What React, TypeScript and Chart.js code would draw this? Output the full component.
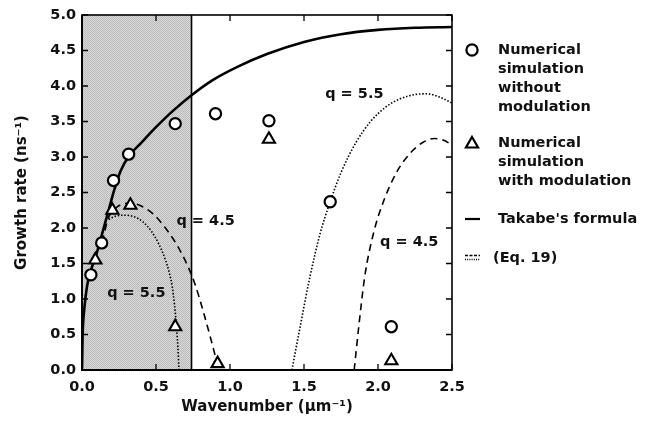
import React, { useEffect, useRef } from "react";
import { Chart, registerables } from "chart.js";

Chart.register(...registerables);

const FONT = "'DejaVu Sans', 'Liberation Sans', sans-serif";

// Simulation points
const circleX = [0.06, 0.133, 0.213, 0.315, 0.63, 0.902, 1.263, 1.677, 2.09];
const circleY = [1.34, 1.79, 2.67, 3.04, 3.47, 3.61, 3.51, 2.37, 0.61];
const triangleX = [0.09, 0.205, 0.327, 0.63, 0.916, 1.263, 2.09];
const triangleY = [1.55, 2.25, 2.32, 0.61, 0.09, 3.25, 0.13];

// Takabe's formula (solid)
const takabeX = [0, 0.004, 0.015, 0.034, 0.06, 0.1, 0.14, 0.18, 0.22, 0.26, 0.32, 0.4, 0.5, 0.62, 0.74, 0.88, 1.05, 1.25, 1.5, 1.75, 2.0, 2.25, 2.5];
const takabeY = [0, 0.47, 0.85, 1.18, 1.4, 1.65, 1.95, 2.25, 2.55, 2.8, 3.02, 3.2, 3.42, 3.66, 3.87, 4.08, 4.27, 4.45, 4.62, 4.73, 4.79, 4.82, 4.83];

// Eq. 19, q = 4.5 (dashed)
const q45LeftX = [0.137, 0.178, 0.24, 0.32, 0.4, 0.48, 0.56, 0.63, 0.7, 0.76, 0.82, 0.87, 0.925];
const q45LeftY = [1.8, 2.14, 2.3, 2.35, 2.31, 2.2, 2.01, 1.8, 1.53, 1.23, 0.82, 0.44, 0];
const q45RightX = [1.839, 1.87, 1.91, 1.97, 2.04, 2.13, 2.22, 2.3, 2.38, 2.44, 2.5];
const q45RightY = [0, 0.61, 1.31, 1.93, 2.39, 2.8, 3.06, 3.2, 3.26, 3.24, 3.17];

// Eq. 19, q = 5.5 (dotted)
const q55LeftX = [0.18, 0.23, 0.29, 0.35, 0.41, 0.47, 0.52, 0.56, 0.59, 0.61, 0.625, 0.638, 0.648, 0.655];
const q55LeftY = [2.12, 2.17, 2.18, 2.16, 2.09, 1.95, 1.77, 1.57, 1.37, 1.17, 0.92, 0.62, 0.32, 0];
const q55RightX = [1.418, 1.474, 1.54, 1.61, 1.677, 1.75, 1.85, 1.95, 2.05, 2.15, 2.25, 2.33, 2.42, 2.5];
const q55RightY = [0, 0.61, 1.31, 1.93, 2.37, 2.78, 3.2, 3.5, 3.7, 3.82, 3.88, 3.89, 3.84, 3.76];

const shadedLimit = 0.74;
const xTickValues = [0, 0.5, 1.0, 1.5, 2.0, 2.5];
const yTickValues = [0, 0.5, 1.0, 1.5, 2.0, 2.5, 3.0, 3.5, 4.0, 4.5, 5.0];

const curveLabels = ["q = 4.5", "q = 5.5", "q = 5.5", "q = 4.5"];
const curveLabelX = [0.638, 0.17, 1.643, 2.014];
const curveLabelY = [2.1, 1.08, 3.89, 1.8];

const legendCircleText = ["Numerical", "simulation", "without", "modulation"];
const legendTriangleText = ["Numerical", "simulation", "with modulation"];
const legendTakabeText = "Takabe's formula";
const legendEqText = "(Eq. 19)";

const toPts = (xs: number[], ys: number[]) => xs.map((x, i) => ({ x, y: ys[i] }));

function makeStipple(ctx: CanvasRenderingContext2D) {
  const c = document.createElement("canvas");
  c.width = 2;
  c.height = 2;
  const g = c.getContext("2d")!;
  g.fillStyle = "#d8d8d8";
  g.fillRect(0, 0, 2, 2);
  g.fillStyle = "#bcbcbc";
  g.fillRect(0, 0, 1, 1);
  g.fillRect(1, 1, 1, 1);
  return ctx.createPattern(c, "repeat");
}

const decorPlugin = {
  id: "decor",
  beforeDatasetsDraw(chart: any) {
    const { ctx, chartArea, scales } = chart;
    const xs = scales.x;
    const px = xs.getPixelForValue(shadedLimit);
    ctx.save();
    ctx.fillStyle = makeStipple(ctx) || "#cbcbcb";
    ctx.fillRect(chartArea.left, chartArea.top, px - chartArea.left, chartArea.bottom - chartArea.top);
    ctx.strokeStyle = "#000";
    ctx.lineWidth = 1.6;
    ctx.beginPath();
    ctx.moveTo(px, chartArea.top);
    ctx.lineTo(px, chartArea.bottom);
    ctx.stroke();
    ctx.restore();
  },
  afterDraw(chart: any) {
    const { ctx, chartArea, scales } = chart;
    const xs = scales.x;
    const ys = scales.y;
    const { left, right, top, bottom } = chartArea;
    ctx.save();
    // frame
    ctx.strokeStyle = "#000";
    ctx.lineWidth = 1.6;
    ctx.strokeRect(left, top, right - left, bottom - top);
    ctx.lineWidth = 2;
    ctx.beginPath();
    ctx.moveTo(left, top);
    ctx.lineTo(left, bottom);
    ctx.lineTo(right, bottom);
    ctx.stroke();
    // inward ticks
    ctx.lineWidth = 1.3;
    ctx.beginPath();
    const tl = 6;
    xTickValues.forEach((v) => {
      const p = xs.getPixelForValue(v);
      ctx.moveTo(p, bottom);
      ctx.lineTo(p, bottom - tl);
      ctx.moveTo(p, top);
      ctx.lineTo(p, top + tl);
    });
    yTickValues.forEach((v) => {
      const p = ys.getPixelForValue(v);
      ctx.moveTo(left, p);
      ctx.lineTo(left + tl, p);
      ctx.moveTo(right, p);
      ctx.lineTo(right - tl, p);
    });
    ctx.stroke();

    // curve labels
    ctx.fillStyle = "#111";
    ctx.font = `bold 14.5px ${FONT}`;
    ctx.textBaseline = "middle";
    ctx.textAlign = "left";
    curveLabels.forEach((t, i) => {
      ctx.fillText(t, xs.getPixelForValue(curveLabelX[i]), ys.getPixelForValue(curveLabelY[i]));
    });

    // legend
    const iconX = 472;
    const textX = 498;
    const lh = 19.2;
    ctx.lineWidth = 2.2;
    ctx.strokeStyle = "#000";
    ctx.fillStyle = "#fff";
    ctx.beginPath();
    ctx.arc(iconX, 50, 5.6, 0, Math.PI * 2);
    ctx.fill();
    ctx.stroke();
    ctx.fillStyle = "#111";
    legendCircleText.forEach((t, i) => ctx.fillText(t, textX, 50 + i * lh));

    ctx.beginPath();
    const ty = 144;
    const r = 7;
    ctx.moveTo(iconX, ty - r);
    ctx.lineTo(iconX + r * 0.866, ty + r * 0.5);
    ctx.lineTo(iconX - r * 0.866, ty + r * 0.5);
    ctx.closePath();
    ctx.fillStyle = "#fff";
    ctx.fill();
    ctx.stroke();
    ctx.fillStyle = "#111";
    legendTriangleText.forEach((t, i) => ctx.fillText(t, textX, 143 + i * lh));

    ctx.lineWidth = 2.2;
    ctx.beginPath();
    ctx.moveTo(465, 219);
    ctx.lineTo(480, 219);
    ctx.stroke();
    ctx.fillText(legendTakabeText, textX, 219);

    ctx.lineWidth = 1.3;
    ctx.setLineDash([3, 1.5]);
    ctx.beginPath();
    ctx.moveTo(465, 255.5);
    ctx.lineTo(480, 255.5);
    ctx.stroke();
    ctx.setLineDash([1, 1.2]);
    ctx.beginPath();
    ctx.moveTo(465, 259.5);
    ctx.lineTo(480, 259.5);
    ctx.stroke();
    ctx.setLineDash([]);
    ctx.fillText(legendEqText, 493, 258);
    ctx.restore();
  },
};

export default function App() {
  const ref = useRef<HTMLCanvasElement | null>(null);
  useEffect(() => {
    if (!ref.current) return;
    const lineBase = {
      showLine: true,
      pointRadius: 0,
      pointHoverRadius: 0,
      borderColor: "#000",
      backgroundColor: "#000",
      fill: false,
      cubicInterpolationMode: "monotone" as const,
      order: 2,
    };
    const chart = new Chart(ref.current, {
      type: "scatter",
      data: {
        datasets: [
          {
            label: "Numerical simulation without modulation",
            data: toPts(circleX, circleY),
            pointStyle: "circle",
            pointRadius: 5.6,
            pointBorderWidth: 2.2,
            pointBorderColor: "#000",
            pointBackgroundColor: "#fff",
            showLine: false,
            order: 0,
          } as any,
          {
            label: "Numerical simulation with modulation",
            data: toPts(triangleX, triangleY),
            pointStyle: "triangle",
            pointRadius: 7,
            pointBorderWidth: 2.1,
            pointBorderColor: "#000",
            pointBackgroundColor: "#fff",
            showLine: false,
            order: 0,
          } as any,
          { ...lineBase, label: "Takabe's formula", data: toPts(takabeX, takabeY), borderWidth: 2.6 },
          { ...lineBase, label: "q = 4.5 (Eq. 19)", data: toPts(q45LeftX, q45LeftY), borderWidth: 1.6, borderDash: [7, 5] },
          { ...lineBase, label: "q = 4.5 (Eq. 19) ", data: toPts(q45RightX, q45RightY), borderWidth: 1.6, borderDash: [7, 5] },
          { ...lineBase, label: "q = 5.5 (Eq. 19)", data: toPts(q55LeftX, q55LeftY), borderWidth: 1.6, borderDash: [1.5, 1.8] },
          { ...lineBase, label: "q = 5.5 (Eq. 19) ", data: toPts(q55RightX, q55RightY), borderWidth: 1.6, borderDash: [1.5, 1.8] },
        ],
      },
      options: {
        responsive: false,
        animation: false,
        devicePixelRatio: 1,
        layout: { padding: { left: 0, top: 15, right: 201, bottom: 0 } },
        plugins: { legend: { display: false }, tooltip: { enabled: false } },
        scales: {
          x: {
            type: "linear",
            min: 0,
            max: 2.5,
            afterFit: (s: any) => {
              s.height = 55;
            },
            grid: { display: false, drawTicks: false },
            border: { display: false },
            ticks: {
              stepSize: 0.5,
              autoSkip: false,
              maxRotation: 0,
              padding: 9,
              color: "#111",
              font: { family: FONT, size: 14.5, weight: "bold" },
              callback: (v: any) => Number(v).toFixed(1),
            },
            title: {
              display: true,
              text: "Wavenumber (µm⁻¹)",
              color: "#111",
              font: { family: FONT, size: 15, weight: "bold" },
              padding: { top: 0, bottom: 9 },
            },
          },
          y: {
            type: "linear",
            min: 0,
            max: 5,
            afterFit: (s: any) => {
              s.width = 82;
            },
            grid: { display: false, drawTicks: false },
            border: { display: false },
            ticks: {
              stepSize: 0.5,
              autoSkip: false,
              padding: 6,
              color: "#111",
              font: { family: FONT, size: 14.5, weight: "bold" },
              callback: (v: any) => Number(v).toFixed(1),
            },
            title: {
              display: true,
              text: "Growth rate (ns⁻¹)",
              color: "#111",
              font: { family: FONT, size: 15, weight: "bold" },
              padding: { top: 13, bottom: 0 },
            },
          },
        },
      } as any,
      plugins: [decorPlugin],
    });
    return () => chart.destroy();
  }, []);

  return (
    <div style={{ position: "absolute", left: 0, top: 0, width: 653, height: 425, background: "#fff" }}>
      <canvas ref={ref} width={653} height={425} style={{ display: "block", width: 653, height: 425 }} />
    </div>
  );
}
